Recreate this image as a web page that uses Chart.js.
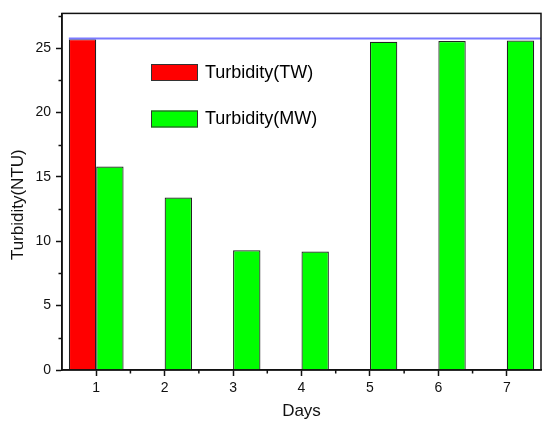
<!DOCTYPE html>
<html>
<head>
<meta charset="utf-8">
<style>
  html, body { margin: 0; padding: 0; background: #fff; }
  #wrap { width: 542px; height: 423px; }
</style>
<script src="https://cdn.jsdelivr.net/npm/chart.js"></script>
</head>
<body>
<div id="wrap"><canvas id="chart"></canvas></div>
<script>
// data
const days = ['1', '2', '3', '4', '5', '6', '7'];
const turbidityTW = [25.7, null, null, null, null, null, null];
const turbidityMW = [15.8, 13.4, 9.3, 9.2, 25.5, 25.55, 25.6];
const twLevel = 25.75;        // blue reference line
const yMax = 27.7;
const yTitle = 'Turbidity(NTU)';

const FONT = 'Liberation Sans, Arial, sans-serif';

// frame, minor ticks, reference line, y title and in-plot legend
const decor = {
  id: 'decor',
  afterDatasetsDraw(chart) {
    const { ctx, chartArea: a, scales: { x, y } } = chart;
    ctx.save();

    // blue line from the left edge of the TW bar to the right frame
    const meta = chart.getDatasetMeta(0).data[0];
    const yl = y.getPixelForValue(twLevel);
    ctx.strokeStyle = '#7a7aff';
    ctx.lineWidth = 2;
    ctx.beginPath();
    ctx.moveTo(meta.x - meta.width / 2, yl);
    ctx.lineTo(a.right, yl);
    ctx.stroke();

    // frame
    ctx.strokeStyle = '#111';
    ctx.lineWidth = 1.5;
    ctx.strokeRect(a.left, a.top, a.right - a.left, a.bottom - a.top);

    // minor ticks
    ctx.beginPath();
    for (let v = 2.5; v < yMax; v += 5) {
      const p = Math.round(y.getPixelForValue(v)) + 0.5;
      ctx.moveTo(a.left - 3.5, p);
      ctx.lineTo(a.left, p);
    }
    for (let i = 0; i < days.length - 1; i++) {
      const p = (x.getPixelForValue(i) + x.getPixelForValue(i + 1)) / 2;
      ctx.moveTo(p, a.bottom);
      ctx.lineTo(p, a.bottom + 3.5);
    }
    ctx.stroke();

    // y axis title (sits a little below the plot centre in the original)
    ctx.save();
    ctx.translate(18, (a.top + a.bottom) / 2 + 13);
    ctx.rotate(-Math.PI / 2);
    ctx.font = '17px ' + FONT;
    ctx.fillStyle = '#111';
    ctx.textAlign = 'center';
    ctx.textBaseline = 'middle';
    ctx.fillText(yTitle, 0, 0);
    ctx.restore();

    // legend inside plot
    const items = chart.data.datasets;
    ctx.font = '18px ' + FONT;
    ctx.textBaseline = 'middle';
    items.forEach((ds, i) => {
      const bx = 151, by = 64 + i * 46.5;
      ctx.fillStyle = ds.backgroundColor;
      ctx.fillRect(bx, by, 47, 17);
      ctx.strokeStyle = '#333';
      ctx.lineWidth = 1;
      ctx.strokeRect(bx + 0.5, by + 0.5, 46, 16);
      ctx.fillStyle = '#000';
      ctx.fillText(ds.label, 205, by + 9);
    });
    ctx.restore();
  }
};

new Chart(document.getElementById('chart'), {
  type: 'bar',
  data: {
    labels: days,
    datasets: [
      {
        label: 'Turbidity(TW)',
        data: turbidityTW,
        backgroundColor: '#ff0000',
        borderColor: '#222',
        borderWidth: 1.2,
        categoryPercentage: 0.8,
        barPercentage: 1,
      },
      {
        label: 'Turbidity(MW)',
        data: turbidityMW,
        backgroundColor: '#00ff00',
        borderColor: '#222',
        borderWidth: 1.2,
        categoryPercentage: 0.8,
        barPercentage: 1,
      },
    ],
  },
  options: {
    responsive: true,
    maintainAspectRatio: false,
    animation: false,
    layout: { padding: { top: 13, right: 1, left: 0, bottom: 0 } },
    plugins: {
      legend: { display: false },
      tooltip: { enabled: false },
    },
    scales: {
      x: {
        offset: true,
        grid: {
          offset: false,
          drawOnChartArea: false,
          drawTicks: true,
          tickLength: 6,
          tickColor: '#111',
          tickWidth: 1.5,
        },
        border: { color: '#111', width: 1.5 },
        ticks: { color: '#111', font: { family: FONT, size: 14 }, padding: 4 },
        title: {
          display: true,
          text: 'Days',
          color: '#111',
          font: { family: FONT, size: 17 },
          padding: { top: 0, bottom: 1 },
        },
        afterFit: s => { s.height = 53; },
      },
      y: {
        min: 0,
        max: yMax,
        grid: {
          drawOnChartArea: false,
          drawTicks: true,
          tickLength: 6,
          tickColor: '#111',
          tickWidth: 1.5,
        },
        border: { color: '#111', width: 1.5 },
        ticks: {
          stepSize: 5,
          includeBounds: false,
          color: '#111',
          font: { family: FONT, size: 14 },
          padding: 5,
        },
        afterFit: s => { s.width = 62; },
      },
    },
  },
  plugins: [decor],
});
</script>
</body>
</html>
